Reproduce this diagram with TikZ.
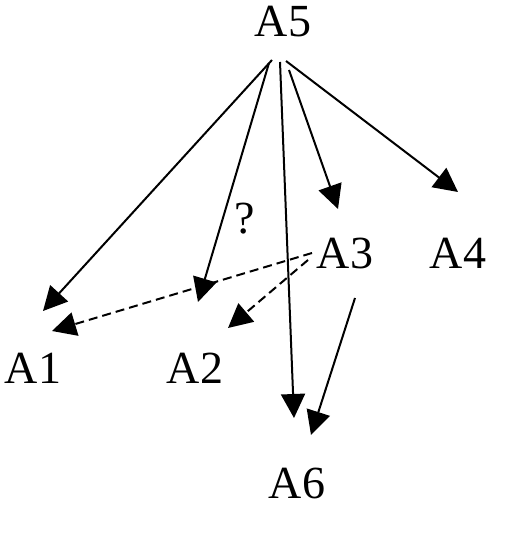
\documentclass[tikz,border=0pt]{standalone}
\usepackage{fontspec}
\setmainfont{Liberation Serif}
\usepackage{tikz}
\usetikzlibrary{arrows.meta}
\usetikzlibrary{positioning}
\tikzset{basic label/.style={inner sep=0pt,anchor=base,font=\fontsize{46}{50}\selectfont}}
\tikzset{edge/.style={draw,
                      line width=2pt,
                      -{Triangle[length=24pt,width=24pt]}}}

\begin{document}
\begin{tikzpicture}
      [
      x=1pt,y=-1pt,
      my label/.style={basic label},
      maybe edge/.style={edge,dash pattern=on 9pt off 5pt},
      ]
      \useasboundingbox (0,0) rectangle (511,537);

      % vertices
      \foreach \i/\x/\y in
      {
      5/283/37,
      1/33/383,
      2/195/383,
      3/345/268,
      4/458/268,
      6/297/498
      }
      {
      \node [my label] (A\i) at (\x,\y) {A\i};
      }
      \node [my label] (Q) at (245,233) {?};

      % edges
      \draw [edge] ([xshift=-11pt,yshift=-23pt]A5.base) -- ([xshift=10pt,yshift=72pt]A1.base);
      \draw [edge] ([xshift=-14pt,yshift=-26pt]A5.base) -- ([xshift=3pt,yshift=81pt]A2.base);
      \draw [edge] ([xshift=-3pt,yshift=-25pt]A5.base) -- ([xshift=-3pt,yshift=80pt]A6.base);
      \draw [edge] ([xshift=6pt,yshift=-33pt]A5.base) -- ([xshift=-7pt,yshift=59pt]A3.base);
      \draw [edge] ([xshift=3pt,yshift=-24pt]A5.base) -- ([xshift=0pt,yshift=76pt]A4.base);
      \draw [edge] ([xshift=10pt,yshift=-30pt]A3.base) -- ([xshift=14pt,yshift=63pt]A6.base);

      % dashed edges
      \draw [maybe edge] ([xshift=-33pt,yshift=15pt]A3.base) -- ([xshift=19pt,yshift=52pt]A1.base);
      \draw [maybe edge] ([xshift=-37pt,yshift=8pt]A3.base) -- ([xshift=33pt,yshift=55pt]A2.base);

\end{tikzpicture}
\end{document}
